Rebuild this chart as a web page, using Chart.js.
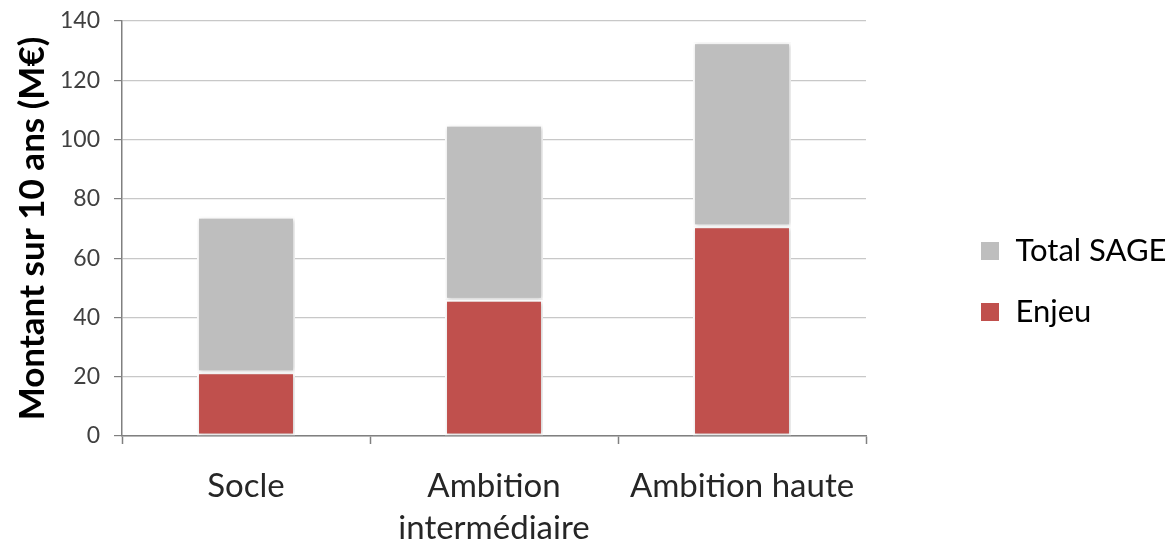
<!DOCTYPE html>
<html>
<head>
<meta charset="utf-8">
<script src="https://cdn.jsdelivr.net/npm/chart.js@4"></script>
<style>
  html, body { margin: 0; padding: 0; background: #fff; }
  #wrap { width: 1169px; height: 543px; }
</style>
</head>
<body>
<div id="wrap"><canvas id="chart"></canvas></div>
<script>
const categories = ['Socle', ['Ambition', 'intermédiaire'], 'Ambition haute'];
const enjeu = [21.5, 46, 70.8];
const totalSage = [52.5, 59, 62];   // grey part stacked above Enjeu
const yTicks = { min: 0, max: 140, step: 20 };

const FONT = 'Lato, "Open Sans", sans-serif';

// push the legend to the right like the original
const legendPlace = {
  id: 'legendPlace',
  beforeLayout(chart) {
    const lg = chart.legend;
    if (lg && !lg._patched) {
      const fit = lg.fit;
      lg.fit = function () { fit.call(this); this.width = 303; };
      lg._patched = true;
    }
  },
  afterLayout(chart) {
    const lg = chart.legend;
    lg.left += 84; lg.right += 84;
    lg.top += 10; lg.bottom += 10;
  }
};

const barShadow = {
  id: 'barShadow',
  beforeDatasetsDraw(chart) {
    const c = chart.ctx;
    c.save();
    c.shadowColor = 'rgba(0,0,0,0.22)';
    c.shadowBlur = 4;
    c.shadowOffsetX = 1;
    c.shadowOffsetY = 1;
  },
  afterDatasetsDraw(chart) {
    chart.ctx.restore();
  }
};

function setChart() {
  const ctx = document.getElementById('chart');
  Chart.defaults.font.family = FONT;
  Chart.defaults.color = '#404040';

  const data = {
    labels: categories,
    datasets: [{
      label: 'Enjeu',
      data: enjeu,
      backgroundColor: '#C0504D',
      borderColor: '#ffffff',
      borderWidth: 2,
      borderSkipped: false,
      barPercentage: 0.395,
      categoryPercentage: 1
    }, {
      label: 'Total SAGE',
      data: totalSage,
      backgroundColor: '#BEBEBE',
      borderColor: '#ffffff',
      borderWidth: 2,
      borderSkipped: false,
      barPercentage: 0.395,
      categoryPercentage: 1
    }]
  };

  const options = {
    responsive: true,
    maintainAspectRatio: false,
    animation: false,
    layout: { padding: { left: 0, right: 0, top: 0, bottom: 0 } },
    plugins: {
      tooltip: { enabled: false },
      legend: {
        position: 'right',
        reverse: true,
        labels: {
          boxWidth: 20,
          boxHeight: 20,
          padding: 30,
          color: '#000',
          font: { size: 31, family: FONT }
        }
      }
    },
    scales: {
      x: {
        stacked: true,
        afterFit(scale) { scale.height = 107; },
        grid: {
          offset: true,
          drawOnChartArea: false,
          drawTicks: true,
          tickLength: 8,
          tickColor: '#808080',
          tickWidth: 1.5
        },
        border: { color: '#808080', width: 1.5 },
        ticks: {
          padding: 21,
          color: '#262626',
          font: { size: 33, family: FONT, lineHeight: 1.27 },
          maxRotation: 0
        }
      },
      y: {
        stacked: true,
        min: yTicks.min,
        max: yTicks.max,
        afterFit(scale) { scale.width = 122; scale.paddingTop = 21; },
        grid: {
          color: '#C8C8C8',
          lineWidth: 1.2,
          drawTicks: true,
          tickLength: 8,
          tickColor: '#808080'
        },
        border: { color: '#808080', width: 1.5 },
        ticks: {
          stepSize: yTicks.step,
          padding: 14,
          color: '#404040',
          font: { size: 23, family: FONT }
        },
        title: {
          display: true,
          text: 'Montant sur 10 ans (M€)',
          color: '#000',
          padding: { top: 12, bottom: 0 },
          font: { size: 35, weight: 'bold', family: FONT }
        }
      }
    }
  };

  new Chart(ctx, {
    type: 'bar',
    data: data,
    options: options,
    plugins: [legendPlace, barShadow]
  });
}

setChart();
</script>
</body>
</html>
